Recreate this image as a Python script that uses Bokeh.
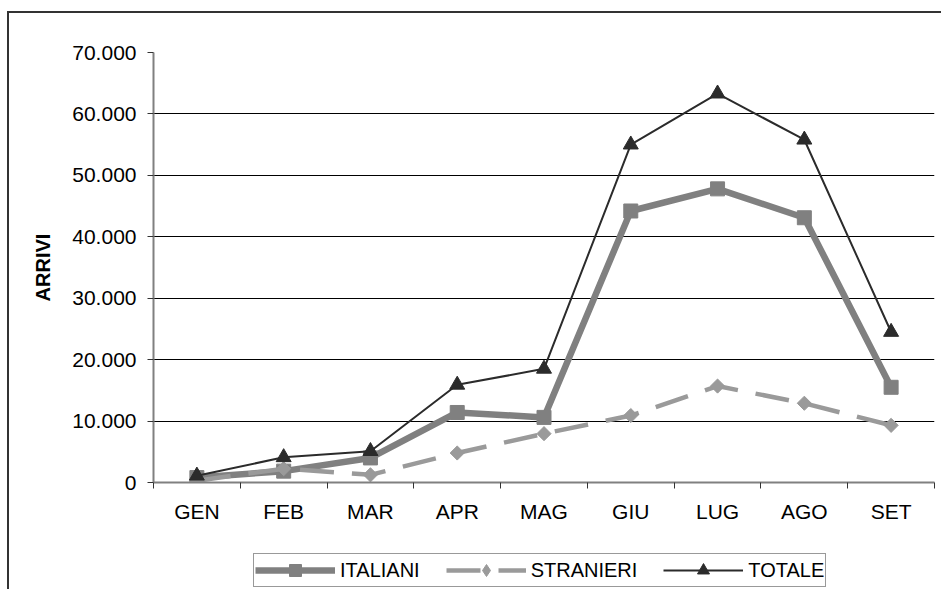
import numpy as np
from bokeh.plotting import figure
from bokeh.layouts import column
from bokeh.models import Range1d, FixedTicker, Legend, LegendItem
from bokeh.embed import file_html
from bokeh.resources import INLINE

# ---- data ----
months = ["GEN", "FEB", "MAR", "APR", "MAG", "GIU", "LUG", "AGO", "SET"]
italiani = [800, 1850, 4000, 11400, 10600, 44200, 47800, 43100, 15500]
stranieri = [300, 2250, 1250, 4800, 7950, 10900, 15700, 12900, 9300]
totale = [1100, 4100, 5100, 15900, 18500, 55000, 63300, 55800, 24500]
y_ticks = [0, 10000, 20000, 30000, 40000, 50000, 60000, 70000]
y_tick_labels = ["0", "10.000", "20.000", "30.000", "40.000", "50.000", "60.000", "70.000"]
series_names = ["ITALIANI", "STRANIERI", "TOTALE"]

FONT = "Liberation Sans"

n = len(months)
xs = [i + 0.5 for i in range(n)]  # category centres

# ---------------- main chart ----------------
p = figure(width=932, height=527,
           x_range=Range1d(0, n), y_range=Range1d(y_ticks[0], y_ticks[-1]),
           output_backend="svg", toolbar_location=None,
           min_border_left=144, min_border_right=7,
           min_border_top=39, min_border_bottom=58)
p.outline_line_color = None
p.background_fill_color = "white"
p.border_fill_color = "white"

p.xgrid.grid_line_color = None
p.ygrid.ticker = FixedTicker(ticks=y_ticks)
p.ygrid.grid_line_color = "black"
p.ygrid.grid_line_width = 1

ya = p.yaxis[0]
ya.ticker = FixedTicker(ticks=y_ticks)
ya.major_label_overrides = dict(zip(y_ticks, y_tick_labels))
ya.axis_line_color = "#808080"
ya.axis_line_width = 2
ya.major_tick_line_color = "#333"
ya.major_tick_out = 6
ya.major_tick_in = 0
ya.minor_tick_line_color = None
ya.major_label_standoff = 11
ya.major_label_text_font = FONT
ya.major_label_text_font_size = "21px"
ya.major_label_text_color = "black"
ya.axis_label = "ARRIVI"
ya.axis_label_text_font = FONT
ya.axis_label_text_font_size = "20px"
ya.axis_label_text_font_style = "bold"
ya.axis_label_text_color = "black"
ya.axis_label_standoff = 15

xa = p.xaxis[0]
xa.ticker = FixedTicker(ticks=xs, minor_ticks=list(range(n + 1)))
xa.major_label_overrides = dict(zip(xs, months))
xa.axis_line_color = "#808080"
xa.axis_line_width = 2
xa.major_tick_line_color = None
xa.major_tick_out = 0
xa.major_tick_in = 0
xa.minor_tick_line_color = "#333"
xa.minor_tick_out = 6
xa.minor_tick_in = 0
xa.major_label_standoff = 11
xa.major_label_text_font = FONT
xa.major_label_text_font_size = "21px"
xa.major_label_text_color = "black"

C_IT, C_ST, C_TO = "#808080", "#9a9a9a", "#2b2b2b"

p.line(xs, italiani, line_color=C_IT, line_width=6.5, line_join="round")
p.scatter(xs, italiani, marker="square", size=14, fill_color=C_IT, line_color=C_IT)
p.line(xs, stranieri, line_color=C_ST, line_width=4.5, line_dash="34 18")
p.scatter(xs, stranieri, marker="square", angle=np.pi / 4, size=10,
          fill_color=C_ST, line_color=C_ST)
p.line(xs, totale, line_color=C_TO, line_width=2)
p.scatter(xs, totale, marker="triangle", size=15, fill_color=C_TO, line_color=C_TO)

# ---------------- legend strip ----------------
lp = figure(width=932, height=49, x_range=Range1d(0, n), y_range=Range1d(-2, -1),
            x_axis_type=None, y_axis_type=None,
            output_backend="svg", toolbar_location=None,
            min_border_left=0, min_border_right=0,
            min_border_top=0, min_border_bottom=0)
lp.outline_line_color = None
lp.background_fill_color = "white"
lp.border_fill_color = "white"
lp.xgrid.grid_line_color = None
lp.ygrid.grid_line_color = None

# same series, outside the strip's visible range: only their legend keys show
r1l = lp.line(xs, italiani, line_color=C_IT, line_width=6.5)
r1s = lp.scatter(xs, italiani, marker="square", fill_color=C_IT, line_color=C_IT)
r2l = lp.line(xs, stranieri, line_color=C_ST, line_width=4.5, line_dash="34 18")
r2s = lp.scatter(xs, stranieri, marker="diamond", fill_color=C_ST, line_color=C_ST)
r3l = lp.line(xs, totale, line_color=C_TO, line_width=2)
r3s = lp.scatter(xs, totale, marker="triangle", fill_color=C_TO, line_color=C_TO)

legend = Legend(items=[
    LegendItem(label=series_names[0], renderers=[r1l, r1s]),
    LegendItem(label=series_names[1], renderers=[r2l, r2s]),
    LegendItem(label=series_names[2], renderers=[r3l, r3s]),
], orientation="horizontal", location=(100, 2))
legend.label_text_font = FONT
legend.label_text_font_size = "20px"
legend.label_text_color = "black"
legend.glyph_width = 80
legend.glyph_height = 30
legend.padding = 1
legend.spacing = 26
legend.label_standoff = 5
legend.margin = 0
legend.border_line_color = "#333"
legend.border_line_width = 1
legend.background_fill_color = "white"
lp.add_layout(legend)

layout = column(p, lp, spacing=0)
layout.styles = {"border-left": "2px solid #333", "border-top": "2px solid #333",
                 "margin-left": "7px", "margin-top": "11px"}

open("out.html", "w").write(file_html(layout, INLINE))
